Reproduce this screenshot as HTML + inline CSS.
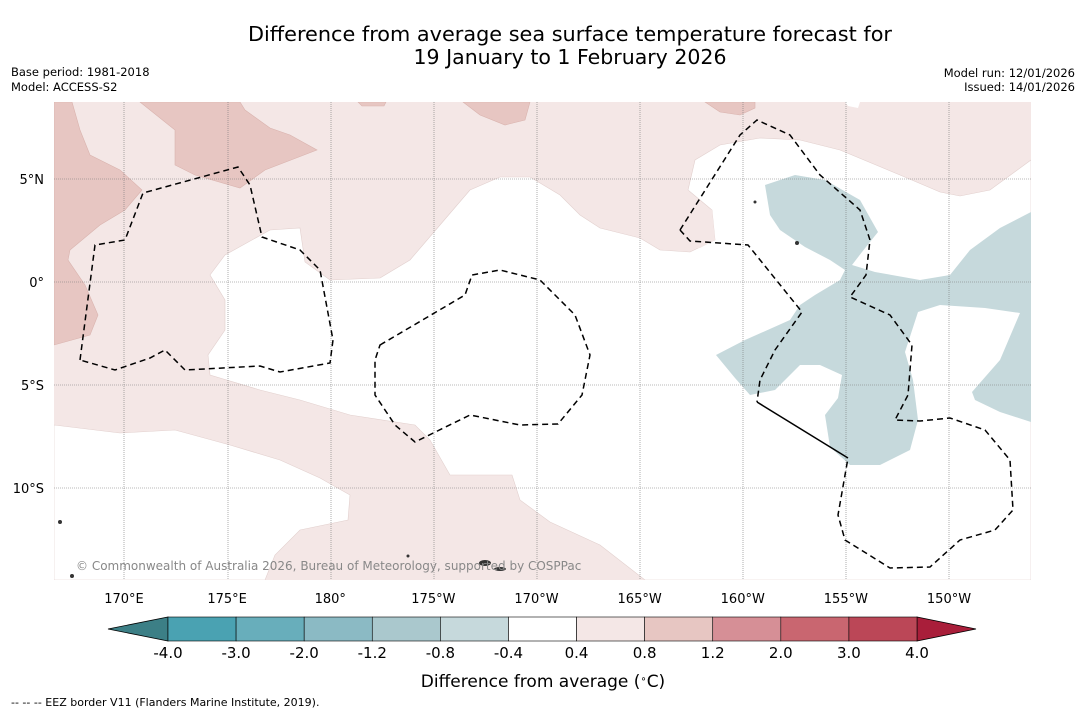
<!DOCTYPE html>
<html><head><meta charset="utf-8">
<style>
body{margin:0;background:#fff;width:1085px;height:713px;overflow:hidden;font-family:"Liberation Sans","DejaVu Sans",sans-serif;}
svg text{font-family:"DejaVu Sans","Liberation Sans",sans-serif;}
</style></head>
<body>
<svg id="chart" width="1085" height="713" viewBox="0 0 1085 713" xmlns="http://www.w3.org/2000/svg">
<text x="570" y="41" font-size="20.5" text-anchor="middle" fill="#000" textLength="644" lengthAdjust="spacingAndGlyphs">Difference from average sea surface temperature forecast for</text>
<text x="570" y="64" font-size="20.5" text-anchor="middle" fill="#000">19 January to 1 February 2026</text>
<text x="11" y="76" font-size="11.5">Base period: 1981-2018</text>
<text x="11" y="91" font-size="11.5">Model: ACCESS-S2</text>
<text x="1075" y="77" font-size="11.5" text-anchor="end">Model run: 12/01/2026</text>
<text x="1075" y="91" font-size="11.5" text-anchor="end">Issued: 14/01/2026</text>

<g>
<clipPath id="mc"><rect x="54" y="102" width="977" height="478"/></clipPath>
<g clip-path="url(#mc)">
<rect x="54" y="102" width="977" height="478" fill="#f4e7e6"/>
<path fill="#fff" stroke="#e2d0ce" stroke-width="0.6" d="M225,255 L270,230 L300,228 L305,262 L330,280 L380,278 L410,260 L440,225 L470,190 L500,177 L530,177 L560,195 L580,215 L600,228 L640,238 L660,250 L690,252 L715,240 L712,210 L688,190 L695,160 L720,145 L760,138 L800,140 L840,150 L900,175 L940,192 L960,196 L990,190 L1031,160 L1031,580 L645,580 L600,545 L550,522 L520,500 L512,475 L450,475 L430,440 L415,425 L350,415 L300,400 L260,390 L210,375 L208,355 L225,330 L225,300 L210,275 Z"/>
<path fill="#fff" stroke="#e2d0ce" stroke-width="0.6" d="M54,425 L120,433 L175,430 L230,445 L280,460 L320,478 L350,495 L348,520 L300,530 L275,555 L265,580 L54,580 Z"/>
<path fill="#fff" d="M845,102 L860,102 L858,108 L848,106 Z"/>
<g fill="#e7c6c2" stroke="#d9b3ae" stroke-width="0.6">
<path d="M54,102 L72,102 L80,130 L90,155 L120,170 L142,190 L125,210 L100,225 L70,250 L68,260 L85,285 L98,315 L90,335 L54,345 Z"/>
<path d="M140,102 L175,130 L175,165 L195,175 L240,188 L265,170 L317,150 L290,135 L270,128 L245,110 L240,102 Z"/>
<path d="M358,102 L386,102 L384,106 L362,106 Z"/>
<path d="M463,102 L480,115 L505,125 L525,120 L530,102 Z"/>
<path d="M705,102 L720,112 L740,115 L755,108 L755,102 Z"/>
<path d="M688,190 L700,205 L712,210 L715,240 L700,248 L680,248 L680,195 Z" fill="#f4e7e6" stroke="none"/>
</g>
<path fill="#c6d9dc" d="M765,185 L795,175 L825,180 L860,200 L878,232 L862,252 L852,265 L875,272 L920,280 L950,275 L970,250 L1000,228 L1031,212 L1031,422 L1000,412 L975,400 L972,392 L1000,360 L1020,313 L985,308 L940,305 L918,312 L905,352 L913,380 L918,420 L910,450 L880,465 L850,465 L830,447 L825,415 L838,398 L842,375 L820,365 L800,365 L775,390 L750,395 L735,378 L716,355 L745,340 L790,320 L800,305 L815,295 L840,280 L845,270 L830,260 L805,247 L780,230 L770,215 Z"/>
<g stroke="#777" stroke-width="0.6" stroke-dasharray="1,1">
<line x1="124" y1="102" x2="124" y2="580"/><line x1="228" y1="102" x2="228" y2="580"/><line x1="331" y1="102" x2="331" y2="580"/><line x1="434" y1="102" x2="434" y2="580"/><line x1="537" y1="102" x2="537" y2="580"/><line x1="640" y1="102" x2="640" y2="580"/><line x1="743" y1="102" x2="743" y2="580"/><line x1="846" y1="102" x2="846" y2="580"/><line x1="949" y1="102" x2="949" y2="580"/>
<line x1="54" y1="179" x2="1031" y2="179"/><line x1="54" y1="282" x2="1031" y2="282"/><line x1="54" y1="385" x2="1031" y2="385"/><line x1="54" y1="488" x2="1031" y2="488"/>
</g>
<g fill="none" stroke="#000" stroke-width="1.5" stroke-dasharray="6,4">
<path d="M80,360 L95,245 L125,240 L143,193 L238,167 L250,185 L262,237 L300,250 L320,270 L333,340 L330,363 L280,372 L260,366 L185,370 L165,350 L150,358 L115,370 Z"/>
<path d="M380,345 L465,295 L472,275 L500,270 L540,280 L575,315 L590,355 L582,395 L558,424 L520,425 L470,415 L415,442 L395,425 L375,395 L375,360 Z"/>
<path d="M680,230 L740,135 L757,120 L790,135 L820,175 L860,210 L870,240 L866,275 L850,297 L890,315 L912,345 L908,395 L895,420 L920,421 L950,418 L985,430 L1010,460 L1013,510 L995,530 L960,540 L930,567 L890,568 L845,540 L838,515 L848,458"/>
<path d="M680,230 L690,241 L748,245 L802,312 L775,350 L760,380 L757,402"/>
</g>
<path d="M757,402 L848,458" stroke="#000" stroke-width="1.5" fill="none"/>
<g fill="#333">
<ellipse cx="485" cy="563" rx="6" ry="3"/><ellipse cx="500" cy="569" rx="6" ry="2"/><circle cx="60" cy="522" r="2"/><circle cx="72" cy="576" r="2"/><circle cx="408" cy="556" r="1.5"/><circle cx="755" cy="202" r="1.5"/><circle cx="797" cy="243" r="2"/>
</g>
<text x="76" y="570" font-size="12" fill="#888">© Commonwealth of Australia 2026, Bureau of Meteorology, supported by COSPPac</text>
</g>
</g>

<g font-size="13" text-anchor="end">
<text x="44" y="184">5°N</text><text x="44" y="287">0°</text><text x="44" y="390">5°S</text><text x="44" y="493">10°S</text>
</g>
<g id="xaxis" font-size="13" text-anchor="middle"></g>
<g id="cbar"></g>
<text x="543" y="687" font-size="17" text-anchor="middle">Difference from average (<tspan baseline-shift="super" font-size="10">∘</tspan>C)</text>
<text x="11" y="706" font-size="11">--  --  -- EEZ border V11 (Flanders Marine Institute, 2019).</text>
</svg>
<script>
const lonLabels = ["170°E","175°E","180°","175°W","170°W","165°W","160°W","155°W","150°W"];
const lonValues = [170,175,180,185,190,195,200,205,210];
const cbLevels = ["-4.0","-3.0","-2.0","-1.2","-0.8","-0.4","0.4","0.8","1.2","2.0","3.0","4.0"];
const cbColors = ["#4aa2b2","#68aebb","#8bbac4","#aac8cd","#c6d9dc","#ffffff","#f4e7e6","#e7c6c2","#d68f96","#c96670","#bb4757"];
const ns="http://www.w3.org/2000/svg";
const xScale = lon => 124 + (lon-170)*(949-124)/40;
const xa=document.getElementById('xaxis');
lonValues.forEach((v,i)=>{
  const t=document.createElementNS(ns,'text');
  
  
  t.setAttribute('x',xScale(v)); t.setAttribute('y',603);
  t.textContent=lonLabels[i]; xa.appendChild(t);
});
const cb=document.getElementById('cbar');
const x0=168,x1=917,y0=617,h=24,w=(x1-x0)/cbColors.length;
const lt=document.createElementNS(ns,'polygon');


lt.setAttribute('points',`108,${y0+h/2} ${x0},${y0} ${x0},${y0+h}`);lt.setAttribute('fill','#3c7f86');lt.setAttribute('stroke','#000');lt.setAttribute('stroke-width','0.8');cb.appendChild(lt);
const rt=document.createElementNS(ns,'polygon');


rt.setAttribute('points',`976,${y0+h/2} ${x1},${y0} ${x1},${y0+h}`);rt.setAttribute('fill','#a91e3a');rt.setAttribute('stroke','#000');rt.setAttribute('stroke-width','0.8');cb.appendChild(rt);
cbColors.forEach((c,i)=>{
  const r=document.createElementNS(ns,'rect');
  
  
  r.setAttribute('x',x0+i*w);r.setAttribute('y',y0);r.setAttribute('width',w);r.setAttribute('height',h);
  r.setAttribute('fill',c);r.setAttribute('stroke','#000');r.setAttribute('stroke-width','0.6');cb.appendChild(r);
});
cbLevels.forEach((l,i)=>{
  const t=document.createElementNS(ns,'text');
  
  
  t.setAttribute('x',x0+i*w);t.setAttribute('y',658);t.setAttribute('font-size','15');t.setAttribute('text-anchor','middle');
  t.textContent=l;cb.appendChild(t);
});
</script>
</body></html>
